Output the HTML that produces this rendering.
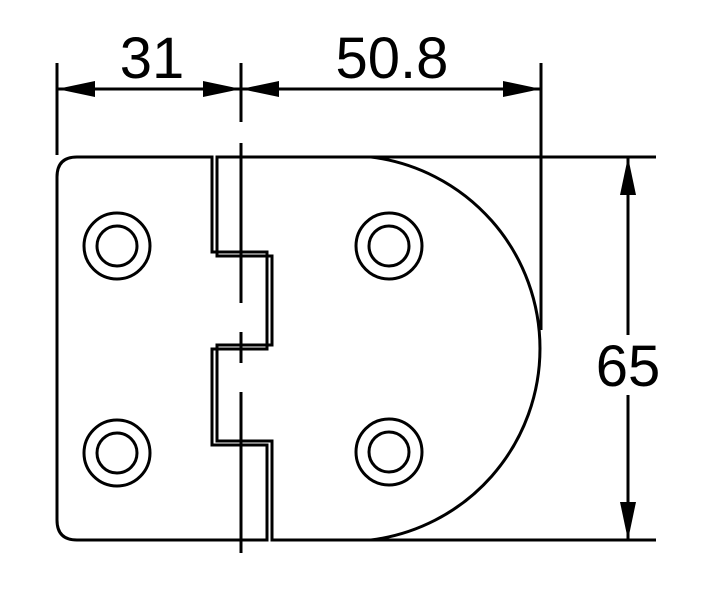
<!DOCTYPE html>
<html><head><style>html,body{margin:0;padding:0;background:#fff}svg{display:block}</style></head><body>
<svg width="703" height="595" viewBox="0 0 703 595" xmlns="http://www.w3.org/2000/svg">
<g fill="none" stroke="#000" stroke-width="3">
<line x1="57" y1="63" x2="57" y2="155"/>
<line x1="541" y1="63" x2="541" y2="330"/>
<line x1="365" y1="157" x2="656" y2="157"/>
<line x1="365" y1="540" x2="656" y2="540"/>
<line x1="241" y1="63" x2="241" y2="122"/>
<line x1="241" y1="143" x2="241" y2="303"/>
<line x1="241" y1="332" x2="241" y2="363"/>
<line x1="241" y1="392" x2="241" y2="553"/>
<line x1="57" y1="89" x2="541" y2="89"/>
<line x1="628" y1="157" x2="628" y2="540"/>
<path d="M212,157 H77 Q57,157 57,177 V520 Q57,540 77,540 H267 V445 H212 V349 H267 V252 H212 Z"/>
<path d="M217,157 V256 H272 V345 H217 V441 H272 V540 H371 A193 193 0 0 0 371 157 Z"/>
<circle cx="117" cy="246" r="33"/><circle cx="117" cy="246" r="20"/>
<circle cx="117" cy="453" r="33"/><circle cx="117" cy="453" r="20"/>
<circle cx="389" cy="246" r="33"/><circle cx="389" cy="246" r="20"/>
<circle cx="389" cy="452" r="33"/><circle cx="389" cy="452" r="20"/>
</g>
<g fill="#000">
<polygon points="57,89 95,81 95,97"/>
<polygon points="241,89 203,81 203,97"/>
<polygon points="241,89 279,81 279,97"/>
<polygon points="541,89 503,81 503,97"/>
<polygon points="628,157 620,195 636,195"/>
<polygon points="628,540 620,502 636,502"/>
</g>
<rect x="588" y="335" width="80" height="60" fill="#fff"/>
<g font-family="Liberation Sans, Arial, sans-serif" font-size="58" fill="#000" text-anchor="middle">
<text x="152" y="78">31</text>
<text x="392" y="78">50.8</text>
<text x="628" y="386">65</text>
</g>
</svg>
</body></html>
